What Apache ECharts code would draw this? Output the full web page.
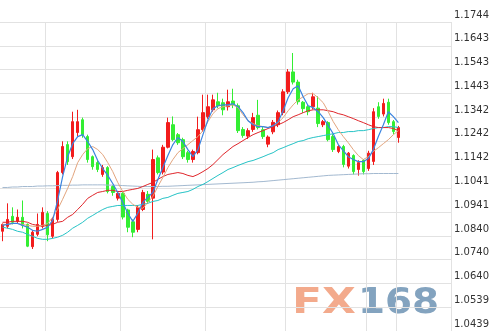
<!DOCTYPE html>
<html><head><meta charset="utf-8">
<script src="https://cdn.jsdelivr.net/npm/echarts@6/dist/echarts.min.js"></script>
<style>html,body{margin:0;padding:0;background:#fff}#c{width:492px;height:331px}</style>
</head><body><div id="c"></div>
<script>
// candle values
const opens  = [1.0860,1.0881,1.0923,1.0902,1.0919,1.0889,1.0795,1.0847,1.0881,1.0935,
                1.0839,1.0910,1.1108,1.1226,1.1175,1.1277,1.1331,1.1260,1.1175,1.1150,
                1.1100,1.1129,1.1049,1.1000,1.1020,1.0950,1.0900,1.0868,1.0952,1.1016,
                1.1000,1.1170,1.1110,1.1215,1.1310,1.1268,1.1247,1.1192,1.1163,1.1192,
                1.1289,1.1344,1.1373,1.1407,1.1403,1.1386,1.1410,1.1390,1.1290,1.1262,
                1.1290,1.1350,1.1289,1.1228,1.1280,1.1310,1.1361,1.1449,1.1533,1.1490,
                1.1405,1.1386,1.1386,1.1380,1.1310,1.1319,1.1260,1.1197,1.1218,1.1135,
                1.1180,1.1121,1.1160,1.1125,1.1155,1.1386,1.1355,1.1405,1.1323,1.1256];
const closes = [1.0889,1.0910,1.0898,1.0919,1.0885,1.0797,1.0856,1.0889,1.0940,1.0845,
                1.0910,1.1108,1.1218,1.1154,1.1323,1.1323,1.1268,1.1163,1.1133,1.1121,
                1.1129,1.1028,1.1024,1.1020,1.0920,1.0877,1.0856,1.0961,1.1024,1.0986,
                1.1163,1.1108,1.1215,1.1319,1.1247,1.1234,1.1175,1.1163,1.1197,1.1289,
                1.1361,1.1386,1.1415,1.1390,1.1373,1.1407,1.1394,1.1285,1.1265,1.1285,
                1.1340,1.1298,1.1260,1.1258,1.1320,1.1361,1.1449,1.1533,1.1490,1.1407,
                1.1378,1.1365,1.1428,1.1315,1.1323,1.1247,1.1205,1.1218,1.1142,1.1190,
                1.1112,1.1150,1.1112,1.1190,1.1365,1.1345,1.1400,1.1319,1.1281,1.1298];
const lows   = [1.0818,1.0872,1.0889,1.0893,1.0872,1.0793,1.0785,1.0839,1.0872,1.0818,
                1.0830,1.0900,1.1100,1.1140,1.1165,1.1260,1.1255,1.1150,1.1120,1.1110,
                1.1090,1.1020,1.1010,1.0990,1.0910,1.0856,1.0835,1.0856,1.0945,1.0975,
                1.0826,1.1100,1.1100,1.1210,1.1240,1.1225,1.1165,1.1150,1.1150,1.1185,
                1.1280,1.1335,1.1365,1.1380,1.1350,1.1370,1.1380,1.1275,1.1255,1.1250,
                1.1280,1.1290,1.1250,1.1215,1.1270,1.1300,1.1350,1.1440,1.1480,1.1395,
                1.1360,1.1350,1.1375,1.1300,1.1300,1.1240,1.1195,1.1190,1.1130,1.1125,
                1.1100,1.1095,1.1100,1.1115,1.1140,1.1335,1.1345,1.1310,1.1270,1.1234];
const highs  = [1.0893,1.0978,1.0961,1.0952,1.0990,1.0893,1.0865,1.0935,1.0961,1.0945,
                1.0920,1.1115,1.1240,1.1240,1.1365,1.1373,1.1340,1.1268,1.1180,1.1160,
                1.1140,1.1135,1.1055,1.1030,1.1025,1.0955,1.0910,1.0970,1.1035,1.1030,
                1.1205,1.1180,1.1225,1.1340,1.1345,1.1275,1.1255,1.1200,1.1205,1.1344,
                1.1437,1.1437,1.1437,1.1445,1.1420,1.1458,1.1462,1.1400,1.1300,1.1295,
                1.1360,1.1415,1.1300,1.1265,1.1330,1.1370,1.1460,1.1545,1.1613,1.1500,
                1.1410,1.1395,1.1445,1.1430,1.1330,1.1325,1.1270,1.1225,1.1225,1.1195,
                1.1185,1.1160,1.1165,1.1200,1.1380,1.1405,1.1420,1.1420,1.1330,1.1305];
// moving average lines
const maBlue = [1.0885,1.0889,1.0893,1.0893,1.0885,1.0877,1.0864,1.0860,1.0868,1.0877,
                1.0906,1.0990,1.1091,1.1175,1.1230,1.1260,1.1268,1.1239,1.1205,1.1159,
                1.1125,1.1096,1.1062,1.1024,1.0982,1.0936,1.0902,1.0936,1.0982,1.1003,
                1.1024,1.1079,1.1129,1.1180,1.1226,1.1256,1.1239,1.1205,1.1175,1.1205,
                1.1268,1.1331,1.1378,1.1390,1.1394,1.1394,1.1399,1.1386,1.1361,1.1327,
                1.1310,1.1302,1.1302,1.1298,1.1306,1.1323,1.1369,1.1424,1.1462,1.1475,
                1.1428,1.1390,1.1382,1.1365,1.1340,1.1306,1.1272,1.1226,1.1201,1.1175,
                1.1163,1.1154,1.1154,1.1167,1.1205,1.1260,1.1310,1.1365,1.1344,1.1319];
const maTan  = [1.0889,1.0889,1.0893,1.0893,1.0889,1.0885,1.0881,1.0881,1.0885,1.0893,
                1.0919,1.0952,1.0995,1.1041,1.1091,1.1150,1.1184,1.1209,1.1218,1.1205,
                1.1184,1.1150,1.1112,1.1066,1.1028,1.0995,1.0974,1.0961,1.0957,1.0982,
                1.1007,1.1049,1.1087,1.1129,1.1163,1.1192,1.1209,1.1226,1.1243,1.1260,
                1.1285,1.1323,1.1357,1.1378,1.1386,1.1390,1.1394,1.1382,1.1352,1.1327,
                1.1315,1.1306,1.1302,1.1298,1.1306,1.1319,1.1340,1.1369,1.1394,1.1415,
                1.1428,1.1441,1.1441,1.1424,1.1403,1.1365,1.1323,1.1289,1.1260,1.1234,
                1.1205,1.1180,1.1163,1.1175,1.1197,1.1213,1.1230,1.1247,1.1268,1.1285];
const maRed  = [1.0898,1.0898,1.0902,1.0902,1.0902,1.0898,1.0889,1.0885,1.0881,1.0885,
                1.0889,1.0898,1.0902,1.0919,1.0931,1.0952,1.0974,1.0999,1.1012,1.1024,
                1.1028,1.1033,1.1033,1.1028,1.1028,1.1033,1.1037,1.1041,1.1049,1.1058,
                1.1066,1.1079,1.1091,1.1100,1.1104,1.1108,1.1104,1.1096,1.1091,1.1100,
                1.1112,1.1125,1.1142,1.1163,1.1184,1.1201,1.1218,1.1230,1.1243,1.1256,
                1.1268,1.1277,1.1285,1.1294,1.1302,1.1310,1.1319,1.1331,1.1344,1.1352,
                1.1361,1.1369,1.1373,1.1373,1.1373,1.1369,1.1365,1.1357,1.1352,1.1344,
                1.1336,1.1327,1.1319,1.1310,1.1302,1.1298,1.1298,1.1298,1.1294,1.1285];
const maCyan = [1.0877,1.0873,1.0868,1.0860,1.0856,1.0847,1.0839,1.0830,1.0826,1.0826,
                1.0830,1.0835,1.0843,1.0856,1.0873,1.0885,1.0898,1.0915,1.0927,1.0940,
                1.0952,1.0961,1.0965,1.0969,1.0969,1.0969,1.0969,1.0969,1.0974,1.0978,
                1.0986,1.0990,1.0999,1.1003,1.1012,1.1020,1.1024,1.1028,1.1037,1.1049,
                1.1058,1.1070,1.1083,1.1096,1.1108,1.1121,1.1129,1.1138,1.1146,1.1154,
                1.1159,1.1167,1.1175,1.1184,1.1192,1.1205,1.1213,1.1222,1.1230,1.1239,
                1.1243,1.1251,1.1256,1.1260,1.1264,1.1268,1.1272,1.1277,1.1277,1.1281,
                1.1281,1.1285,1.1285,1.1289,1.1294,1.1298,1.1298,1.1302,1.1302,1.1298];
const maSteel= [1.1045,1.1045,1.1047,1.1047,1.1049,1.1049,1.1049,1.1051,1.1051,1.1052,
                1.1052,1.1053,1.1054,1.1054,1.1055,1.1055,1.1056,1.1056,1.1056,1.1056,
                1.1056,1.1055,1.1055,1.1054,1.1053,1.1052,1.1051,1.1050,1.1049,1.1049,
                1.1049,1.1049,1.1050,1.1050,1.1051,1.1052,1.1053,1.1054,1.1055,1.1056,
                1.1057,1.1058,1.1059,1.1060,1.1061,1.1062,1.1063,1.1064,1.1065,1.1066,
                1.1067,1.1069,1.1070,1.1072,1.1074,1.1076,1.1078,1.1080,1.1082,1.1084,
                1.1086,1.1088,1.1090,1.1092,1.1094,1.1096,1.1097,1.1098,1.1099,1.1100,
                1.1101,1.1102,1.1103,1.1103,1.1104,1.1104,1.1104,1.1104,1.1104,1.1104];
// y axis tick labels
const tickLabels = ['1.0439','1.0539','1.0640','1.0740','1.0840','1.0941','1.1041',
                    '1.1142','1.1242','1.1342','1.1443','1.1543','1.1643','1.1744'];
const yMin = 1.04388, yStep = 0.010039, yMax = 1.174387;
// category slots (80 bars + empty space to the right) and vertical divider slots
const slotCount = 90;
const dividerSlots = [9, 24, 41, 57, 73, 79];
const categories = Array.from({length: slotCount}, (_, i) => String(i + 1));

const candles = opens.map((o, i) => [o, closes[i], lows[i], highs[i]]);
const lineSeries = (name, data, color, w) => ({
  name, type: 'line', data, symbol: 'none', smooth: false, silent: true,
  lineStyle: {color, width: w}, z: 3
});

const chart = echarts.init(document.getElementById('c'), null, {renderer: 'canvas'});
chart.setOption({
  animation: false,
  backgroundColor: '#ffffff',
  grid: {left: 0, right: 39, top: 22, bottom: -1, containLabel: false},
  xAxis: {
    type: 'category', data: categories, boundaryGap: true,
    axisLine: {show: false}, axisTick: {show: false}, axisLabel: {show: false},
    splitLine: {show: true, interval: (idx) => dividerSlots.includes(idx),
                lineStyle: {color: '#e2e2e2', width: 1}}
  },
  yAxis: {
    type: 'value', position: 'right', min: yMin, max: yMax, interval: yStep,
    axisLine: {show: false}, axisTick: {show: false},
    splitLine: {show: true, lineStyle: {color: '#e2e2e2', width: 1}},
    axisLabel: {
      margin: 3, color: '#333', fontSize: 10, fontFamily: 'DejaVu Sans',
      verticalAlign: 'bottom', lineHeight: 14,
      formatter: (v) => tickLabels[Math.round((v - yMin) / yStep)] || ''
    }
  },
  graphic: [
    {type: 'text', left: 292, top: 286, z: 0, scaleX: 1.22,
     style: {text: 'FX', font: 'bold 36px "DejaVu Sans"', fill: '#f3aa8c'}},
    {type: 'text', left: 358, top: 286, z: 0, scaleX: 1.08,
     style: {text: '168', font: 'bold 36px "DejaVu Sans"', fill: '#83a3bf'}}
  ],
  series: [
    {type: 'candlestick', data: candles, barWidth: 3, silent: true, z: 2,
     itemStyle: {color: '#f21c1c', color0: '#33ee33', borderColor: '#f21c1c',
                 borderColor0: '#33ee33', borderWidth: 1}},
    lineSeries('MA120', maSteel, '#a3b9d0', 1),
    lineSeries('MA60', maCyan, '#25c3c6', 1),
    lineSeries('MA20', maRed, '#e0262b', 1),
    lineSeries('MA10', maTan, '#e3a57e', 1),
    lineSeries('MA5', maBlue, '#3b84e0', 1.2)
  ]
});
</script></body></html>
